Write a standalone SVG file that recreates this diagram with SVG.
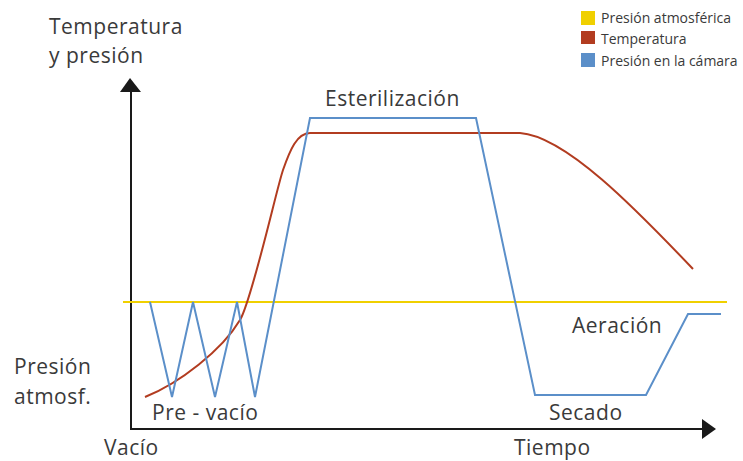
<svg xmlns="http://www.w3.org/2000/svg" width="743" height="461" viewBox="0 0 743 461">
<style>
.t{font-family:"Open Sans","Noto Sans",sans-serif;font-size:21px;letter-spacing:0.5px;fill:#3a3a3a}
.l{font-family:"Open Sans","Noto Sans",sans-serif;font-size:14px;fill:#3a3a3a}
.ax{stroke:#1a1a1a;stroke-width:2;fill:none}
.curve{fill:none;stroke-width:2;stroke-linejoin:miter}
</style>
<rect width="743" height="461" fill="#ffffff"/>
<g id="axes">
<line class="ax" x1="131" y1="88" x2="131" y2="429"/>
<line class="ax" x1="130" y1="429" x2="704" y2="429"/>
<polygon points="130,78 120,92 141,92" fill="#1a1a1a"/>
<polygon points="716,429 702,419 702,439" fill="#1a1a1a"/>
</g>
<g id="connectors">
<line id="atm" x1="123" y1="302" x2="727" y2="302" stroke="#f0d000" stroke-width="2"/>
<path id="temp" class="curve" stroke="#b23c20" d="M145,397 C180,383 222,350 240,320 C252,300 277,187 283,170 C290,150 297,133 310,133 L520,133 C565,136 635,208 693,269"/>
<path id="pres" class="curve" stroke="#5b8fc9" d="M150,302 L172,397 L193,302 L215,397 L237,302 L255,397 L310,118 L476,118 L535,395 L646,395 L688,314 L721,314"/>
</g>
<g id="labels">
<text class="t" x="49" y="34">Temperatura</text>
<text class="t" x="49" y="63">y presión</text>
<text class="t" x="14" y="374">Presión</text>
<text class="t" x="14" y="403.5">atmosf.</text>
<text class="t" x="104" y="455">Vacío</text>
<text class="t" x="514" y="455">Tiempo</text>
<text class="t" x="152" y="420">Pre - vacío</text>
<text class="t" x="549" y="420">Secado</text>
<text class="t" x="572" y="333">Aeración</text>
<text class="t" x="325" y="106">Esterilización</text>
</g>
<g id="legend">
<rect x="581" y="11" width="14" height="14" fill="#f0d000"/>
<text class="l" x="601" y="23">Presión atmosférica</text>
<rect x="581" y="31" width="14" height="13" fill="#b23c20"/>
<text class="l" x="601" y="44">Temperatura</text>
<rect x="581" y="53" width="14" height="14" fill="#5b8fc9"/>
<text class="l" x="601" y="66">Presión en la cámara</text>
</g>
</svg>
